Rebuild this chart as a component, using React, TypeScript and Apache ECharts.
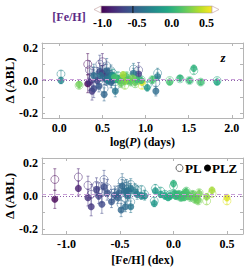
import React, { useEffect, useRef } from "react";
import * as echarts from "echarts";

// ---- data (one entry per star) ----
const logP = [0.33, 0.50, 0.35, 0.38, 0.92, 0.44, 0.40, 0.47, 0.46, 0.55, 0.58, 0.52, 0.55, 0.60, 0.62, 0.86, 0.65, 1.12, 0.02, 0.57, 1.14, 0.62, 1.02, 0.68, 0.70, 1.56, 0.75, 1.40, 1.83, 1.51, 1.64, 1.28, 0.78, 0.80, 0.83, 0.73, 0.88, 0.23, 0.76, 0.74, 0.96, 0.66, 0.90, 0.72, 0.95, 0.64, 0.85, 1.08, 0.53, 0.60, 0.48, 0.56, 0.40];
const feh = [-1.11, -0.89, -0.80, -0.77, -0.72, -0.70, -0.67, -0.65, -0.58, -0.55, -0.51, -0.49, -0.48, -0.46, -0.43, -0.40, -0.40, -0.45, -0.30, -0.27, -0.36, -0.17, -0.18, -0.12, -0.08, 0.00, -0.03, 0.01, -0.05, 0.04, 0.07, 0.10, 0.12, 0.14, 0.16, 0.18, 0.21, 0.23, 0.31, 0.36, 0.50, 0.05, 0.08, 0.20, 0.02, 0.11, 0.24, 0.09, -0.62, -0.52, -0.42, -0.34, -0.44];
const dPL = [0.100, 0.115, 0.065, 0.010, 0.065, 0.030, 0.020, 0.100, 0.000, 0.020, 0.040, -0.050, 0.090, 0.060, 0.020, 0.070, -0.035, -0.015, 0.040, 0.010, 0.045, 0.045, -0.030, 0.030, 0.010, 0.060, 0.010, 0.010, 0.000, 0.000, -0.010, 0.000, 0.030, 0.000, -0.010, 0.010, -0.020, -0.030, -0.030, 0.015, -0.030, 0.010, 0.000, -0.020, 0.005, 0.020, 0.020, 0.005, 0.050, 0.020, 0.050, 0.035, 0.060];
const dPLZ = [-0.020, 0.045, -0.010, -0.065, 0.040, 0.000, -0.050, 0.055, -0.035, 0.005, 0.020, -0.085, 0.060, 0.030, 0.000, 0.045, -0.065, -0.065, 0.000, 0.000, 0.025, 0.030, -0.045, 0.010, 0.000, 0.075, 0.000, 0.015, -0.010, 0.000, -0.010, -0.010, 0.025, 0.000, -0.005, 0.010, -0.010, -0.025, -0.005, 0.035, -0.010, 0.010, 0.005, -0.015, 0.000, 0.020, 0.015, 0.005, 0.020, -0.010, 0.030, 0.010, 0.030];
const errPL = [0.065, 0.050, 0.055, 0.060, 0.045, 0.050, 0.060, 0.055, 0.040, 0.040, 0.035, 0.045, 0.045, 0.035, 0.030, 0.035, 0.040, 0.035, 0.020, 0.025, 0.030, 0.025, 0.020, 0.020, 0.020, 0.020, 0.020, 0.015, 0.015, 0.015, 0.015, 0.015, 0.020, 0.020, 0.020, 0.020, 0.020, 0.020, 0.020, 0.020, 0.020, 0.020, 0.020, 0.020, 0.020, 0.020, 0.020, 0.020, 0.050, 0.040, 0.040, 0.030, 0.040];
const errPLZ = [0.055, 0.045, 0.050, 0.055, 0.040, 0.045, 0.055, 0.050, 0.035, 0.035, 0.030, 0.040, 0.040, 0.030, 0.030, 0.030, 0.035, 0.030, 0.020, 0.025, 0.025, 0.020, 0.020, 0.020, 0.020, 0.020, 0.020, 0.015, 0.015, 0.015, 0.015, 0.015, 0.020, 0.020, 0.020, 0.020, 0.020, 0.020, 0.020, 0.020, 0.020, 0.020, 0.020, 0.020, 0.020, 0.020, 0.020, 0.020, 0.045, 0.035, 0.035, 0.030, 0.035];

const logPTicks = [0, 0.5, 1.0, 1.5, 2.0];
const fehTicks = [-1.0, -0.5, 0.0, 0.5];
const dTicks = [-0.2, 0.0, 0.2];
const dMinorTicks = [-0.2, -0.1, 0.0, 0.1, 0.2];
const cbarTicks = [-1.0, -0.5, 0.0, 0.5];
const cbarMarker = -0.56;
const cbarMin = -1.02;
const cbarMax = 0.58;

// ---- viridis ----
const VIR = ["#440154", "#482475", "#414487", "#355f8d", "#2a788e", "#21918c", "#22a884", "#44bf70", "#7ad151", "#bddf26", "#fde725"];
const hex = (h: string) => [parseInt(h.slice(1, 3), 16), parseInt(h.slice(3, 5), 16), parseInt(h.slice(5, 7), 16)];
const VIRRGB = VIR.map(hex);
function viridis(v: number): number[] {
  let t = (v - cbarMin) / (cbarMax - cbarMin);
  t = Math.max(0, Math.min(1, t));
  const p = t * 10;
  const i = Math.min(9, Math.floor(p));
  const f = p - i;
  const a = VIRRGB[i], b = VIRRGB[i + 1];
  return [0, 1, 2].map((k) => Math.round(a[k] + (b[k] - a[k]) * f));
}
const rgba = (c: number[], a: number) => `rgba(${c[0]},${c[1]},${c[2]},${a})`;
const colors = feh.map(viridis);

const FONT = '"Liberation Serif", "Times New Roman", serif';
const frame = "#b5b5b5";

function makeAxes(grid: number, xmin: number, xmax: number, xLabels: number[], xName: any, xGap: number) {
  const labelStyle = { color: "#000", fontFamily: FONT, fontWeight: "bold", fontSize: 12 };
  const xa = [
    {
      type: "value", gridIndex: grid, min: xmin, max: xmax, position: "bottom",
      axisLine: { show: true, onZero: false, lineStyle: { color: frame, width: 1 } },
      axisTick: { show: true, inside: true, length: 3, customValues: xLabels, lineStyle: { color: frame } },
      axisLabel: { ...labelStyle, margin: 4, customValues: xLabels, formatter: (v: number) => v.toFixed(1) },
      splitLine: { show: false },
      name: xName.text, nameLocation: "middle", nameGap: xGap, nameMoveOverlap: false,
      nameTextStyle: { ...labelStyle, fontSize: 12, rich: xName.rich },
    },
    {
      type: "value", gridIndex: grid, min: xmin, max: xmax, position: "top",
      axisLine: { show: true, onZero: false, lineStyle: { color: frame, width: 1 } },
      axisTick: { show: true, inside: true, length: 3, customValues: xLabels, lineStyle: { color: frame } },
      axisLabel: { show: false },
      splitLine: { show: false },
    },
  ];
  const ya = [
    {
      type: "value", gridIndex: grid, min: -0.23, max: 0.23, position: "left",
      axisLine: { show: true, onZero: false, lineStyle: { color: frame, width: 1 } },
      axisTick: { show: true, inside: true, length: 3, customValues: dMinorTicks, lineStyle: { color: frame } },
      axisLabel: { ...labelStyle, margin: 4, customValues: dTicks, formatter: (v: number) => v.toFixed(1) },
      splitLine: { show: false },
      name: "Δ (ABL)", nameLocation: "middle", nameGap: 26, nameRotate: 90, nameMoveOverlap: false,
      nameTextStyle: { ...labelStyle, fontSize: 13 },
    },
    {
      type: "value", gridIndex: grid, min: -0.23, max: 0.23, position: "right",
      axisLine: { show: true, onZero: false, lineStyle: { color: frame, width: 1 } },
      axisTick: { show: true, inside: true, length: 3, customValues: dMinorTicks, lineStyle: { color: frame } },
      axisLabel: { show: false },
      splitLine: { show: false },
    },
  ];
  return { xa, ya };
}

function errRender(params: any, api: any) {
  const x = api.value(0), y = api.value(1), e = api.value(2), i = api.value(3);
  const p1 = api.coord([x, y + e]);
  const p2 = api.coord([x, y - e]);
  const c = rgba(colors[i], 0.5);
  const cap = 1.5;
  const st = { stroke: c, lineWidth: 1 };
  return {
    type: "group",
    children: [
      { type: "line", shape: { x1: p1[0], y1: p1[1], x2: p2[0], y2: p2[1] }, style: st },
      { type: "line", shape: { x1: p1[0] - cap, y1: p1[1], x2: p1[0] + cap, y2: p1[1] }, style: st },
      { type: "line", shape: { x1: p2[0] - cap, y1: p2[1], x2: p2[0] + cap, y2: p2[1] }, style: st },
    ],
  };
}

function panelSeries(xs: number[], axisBase: number) {
  const xi = axisBase, yi = axisBase;
  const refLines = {
    silent: true, symbol: "none", label: { show: false },
    data: [
      { yAxis: 0.012, lineStyle: { type: [4, 3], color: "#c9a0d8", width: 1 } },
      { yAxis: 0.0, lineStyle: { type: [1, 2], color: "#8f60aa", width: 1 } },
    ],
  };
  return [
    {
      type: "custom", xAxisIndex: xi, yAxisIndex: yi, z: 1, silent: true, clip: true,
      renderItem: errRender,
      data: xs.map((x, i) => [x, dPL[i], errPL[i], i]),
      markLine: refLines,
    },
    {
      type: "custom", xAxisIndex: xi, yAxisIndex: yi, z: 1, silent: true, clip: true,
      renderItem: errRender,
      data: xs.map((x, i) => [x, dPLZ[i], errPLZ[i], i]),
    },
    {
      type: "scatter", name: "PL", xAxisIndex: xi, yAxisIndex: yi, z: 2, silent: true,
      symbol: "circle", symbolSize: 8,
      data: xs.map((x, i) => ({
        value: [x, dPL[i]],
        itemStyle: { color: "rgba(255,255,255,0)", borderColor: rgba(colors[i], 0.6), borderWidth: 1 },
      })),
    },
    {
      type: "scatter", name: "PLZ", xAxisIndex: xi, yAxisIndex: yi, z: 3, silent: true,
      symbol: "circle", symbolSize: 7,
      data: xs.map((x, i) => ({
        value: [x, dPLZ[i]],
        itemStyle: { color: rgba(colors[i], 1), borderWidth: 0 },
      })),
    },
  ];
}

// colorbar geometry
const cbX = 101, cbY = 6, cbW = 111, cbH = 7;
const cbPos = (v: number) => cbX + ((v - cbarMin) / (cbarMax - cbarMin)) * cbW;

export default function App() {
  const ref = useRef<HTMLDivElement>(null);
  useEffect(() => {
    const chart = echarts.init(ref.current!, null, { renderer: "svg" });
    const top = makeAxes(0, -0.2, 2.13, logPTicks, { text: "log({i|P}) (days)", rich: { i: { fontStyle: "italic", fontWeight: "bold", fontFamily: FONT, fontSize: 12 } } }, 18);
    const bot = makeAxes(1, -1.23, 0.65, fehTicks, { text: "[Fe/H] (dex)" }, 20);

    const graphic: any[] = [
      {
        type: "rect", shape: { x: cbX, y: cbY, width: cbW, height: cbH },
        style: {
          fill: new echarts.graphic.LinearGradient(0, 0, 1, 0, VIR.map((c, i) => ({ offset: i / 10, color: c }))),
          stroke: "#999", lineWidth: 0.5,
        },
      },
      { type: "polygon", shape: { points: [[cbX, cbY], [cbX, cbY + cbH], [cbX - 7, cbY + cbH / 2]] }, style: { fill: "#fff", stroke: "#c9a9a9", lineWidth: 0.7 } },
      { type: "polygon", shape: { points: [[cbX + cbW, cbY], [cbX + cbW, cbY + cbH], [cbX + cbW + 7, cbY + cbH / 2]] }, style: { fill: "#fff", stroke: "#c9a9a9", lineWidth: 0.7 } },
      { type: "line", shape: { x1: cbPos(cbarMarker), y1: cbY, x2: cbPos(cbarMarker), y2: cbY + cbH }, style: { stroke: "#111", lineWidth: 1 } },
      ...cbarTicks.map((v) => ({
        type: "text", x: cbPos(v), y: 22.5,
        style: { text: v.toFixed(1), fill: "#000", font: `bold 12px ${FONT}`, textAlign: "center", textVerticalAlign: "middle" },
      })),
      { type: "text", x: 69, y: 16.5, style: { text: "[Fe/H]", fill: "#5b2a86", font: `bold 12px ${FONT}`, textAlign: "center", textVerticalAlign: "middle" } },
      { type: "text", x: 223, y: 57, style: { text: "z", fill: "#000", font: `italic bold 13px ${FONT}`, textAlign: "center", textVerticalAlign: "middle" } },
      { type: "circle", shape: { cx: 179.5, cy: 168, r: 3.5 }, style: { fill: "#fff", stroke: "#666", lineWidth: 1 } },
      { type: "text", x: 185, y: 168, style: { text: "PL", fill: "#000", font: `bold 13px ${FONT}`, textAlign: "left", textVerticalAlign: "middle" } },
      { type: "circle", shape: { cx: 207.5, cy: 168, r: 3.5 }, style: { fill: "#000" } },
      { type: "text", x: 212, y: 168, style: { text: "PLZ", fill: "#000", font: `bold 13px ${FONT}`, textAlign: "left", textVerticalAlign: "middle" } },
    ];

    chart.setOption({
      animation: false,
      backgroundColor: "#fff",
      textStyle: { fontFamily: FONT },
      grid: [
        { left: 42, top: 43, width: 201, height: 75, containLabel: false, outerBoundsMode: "none" },
        { left: 42, top: 158, width: 201, height: 76, containLabel: false, outerBoundsMode: "none" },
      ],
      xAxis: [...top.xa, ...bot.xa],
      yAxis: [...top.ya, ...bot.ya],
      series: [...panelSeries(logP, 0), ...panelSeries(feh, 2)],
      graphic,
    });
    return () => chart.dispose();
  }, []);
  return <div ref={ref} style={{ position: "fixed", left: 0, top: 0, width: 249, height: 270, background: "#fff" }} />;
}
